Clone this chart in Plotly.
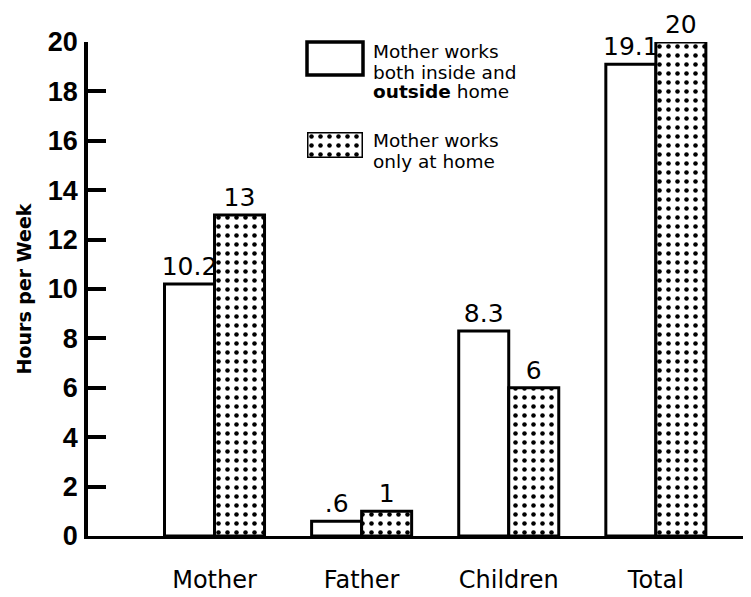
import plotly.graph_objects as go

categories = ["Mother", "Father", "Children", "Total"]
both_values = [10.2, 0.6, 8.3, 19.1]
both_labels = ["10.2", ".6", "8.3", "19.1"]
home_values = [13, 1, 6, 20]
home_labels = ["13", "1", "6", "20"]
y_ticks = [0, 2, 4, 6, 8, 10, 12, 14, 16, 18, 20]
legend_both = ["Mother works", "both inside and", "<b>outside</b> home"]
legend_home = ["Mother works", "only at home"]

TXT = "DejaVu Sans"
pattern = dict(shape=".", fgcolor="black", bgcolor="white", size=9, solidity=0.2, fillmode="replace")

fig = go.Figure()
fig.add_trace(go.Bar(
    x=categories, y=both_values, text=both_labels, textposition="outside", constraintext="none",
    marker=dict(color="white", line=dict(color="black", width=3)),
    textfont=dict(family=TXT, size=25, color="black"), cliponaxis=False, showlegend=False,
))
fig.add_trace(go.Bar(
    x=categories, y=home_values, text=home_labels, textposition="outside", constraintext="none",
    marker=dict(color="white", pattern=pattern, line=dict(color="black", width=3)),
    textfont=dict(family=TXT, size=25, color="black"), cliponaxis=False, showlegend=False,
))
# legend swatch for patterned series
fig.add_trace(go.Bar(
    x=[0], y=[1], width=[1], xaxis="x2", yaxis="y2", hoverinfo="skip",
    marker=dict(color="white", pattern=pattern, line=dict(color="black", width=3)),
    showlegend=False,
))

OFF = 8  # page body margin
W, H = 751 - OFF, 597 - OFF
L, R, T, B = 88 - OFF, 1, 42 - OFF, 61
pw, ph = W - L - R, H - T - B

def px(x):
    return (x - OFF - L) / pw

def py(y):
    return (H - B - (y - OFF)) / ph

annotations = []
for i, line in enumerate(legend_both):
    annotations.append(dict(text=line, xref="paper", yref="paper", x=px(371), y=py(52 + 20 * i),
                            xanchor="left", yanchor="middle", align="left", showarrow=False,
                            font=dict(family=TXT, size=18.5)))
for i, line in enumerate(legend_home):
    annotations.append(dict(text=line, xref="paper", yref="paper", x=px(371), y=py(141 + 20 * i),
                            xanchor="left", yanchor="middle", align="left", showarrow=False,
                            font=dict(family=TXT, size=18.5)))

fig.update_layout(
    template="none",
    width=W, height=H,
    margin=dict(l=L, r=R, t=T, b=B, autoexpand=False),
    plot_bgcolor="white", paper_bgcolor="white",
    barmode="group", bargap=0.32, bargroupgap=0,
    font=dict(family=TXT, color="black"),
    xaxis=dict(
        range=[-0.86, 3.64], showline=True, linecolor="black", linewidth=3, automargin=False,
        ticks="", showgrid=False, zeroline=False,
        tickfont=dict(family=TXT, size=24), ticklabelstandoff=20,
    ),
    yaxis=dict(
        range=[0, 20], tickvals=y_ticks, showline=True, linecolor="black", linewidth=3.5, automargin=False,
        ticks="inside", ticklen=18, tickwidth=3.5, tickcolor="black",
        showgrid=False, zeroline=False,
        tickfont=dict(family="Liberation Sans", size=27, weight="bold"),
        ticklabelstandoff=1,
        title=dict(text="Hours per Week", font=dict(family=TXT, size=19, weight="bold"), standoff=12),
    ),
    xaxis2=dict(domain=[px(307), px(363)], range=[-0.5, 0.5], anchor="y2", visible=False, fixedrange=True),
    yaxis2=dict(domain=[py(158), py(132)], range=[0, 1], anchor="x2", visible=False, fixedrange=True),
    shapes=[
        dict(type="rect", xref="paper", yref="paper", x0=px(307), x1=px(363), y0=py(75), y1=py(42),
             line=dict(color="black", width=3.5), fillcolor="white"),
    ],
    annotations=annotations,
)

fig.write_html("out.html")
